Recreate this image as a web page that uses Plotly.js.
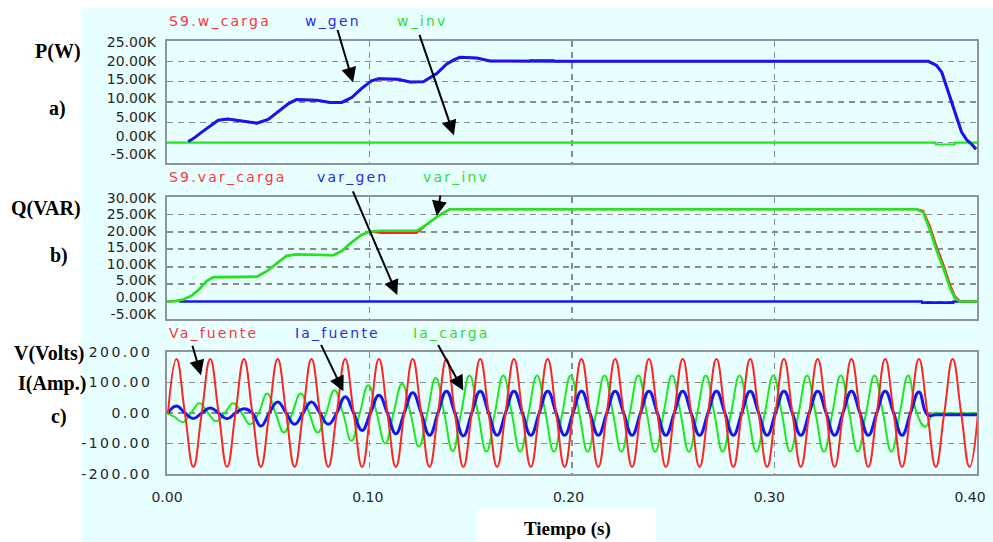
<!DOCTYPE html>
<html><head><meta charset="utf-8">
<script src="https://cdn.plot.ly/plotly-3.0.1.min.js"></script>
<style>
html,body{margin:0;padding:0;background:#fff;}
.xaxislayer-above text,.yaxislayer-above text{letter-spacing:2.4px;}
</style></head>
<body><div id="chart" style="width:993px;height:542px;"></div>
<script>
// ---------- DATA ----------
// Panel a) P(W)
const tP    = [0.0105,0.013,0.018,0.022,0.0253,0.030,0.0377,0.0443,0.050,0.0558,0.060,0.064,0.074,0.0805,0.0863,0.0912,0.096,0.101,0.1045,0.114,0.120,0.1266,0.1332,0.138,0.1414,0.1447,0.153,0.1595,0.179,0.1795,0.191,0.1915,0.376,0.380,0.3826,0.385,0.3875,0.390,0.3924,0.3949,0.3974,0.3995];
const wGen  = [300,1000,2900,4300,5500,5800,5300,4800,5700,8000,9600,10600,10400,9900,9900,11100,13300,15200,15700,15600,14900,15000,17000,19300,20300,21000,20800,20100,20000,20000,20000,20000,20000,19000,17300,13600,9600,5900,2600,700,-400,-1600];
const wCarga= [300,1000,2900,4300,5500,5800,5300,4800,5700,8000,9600,10600,10400,9900,9900,11100,13300,15200,15700,15600,14900,15000,17000,19300,20300,21000,20800,20100,20000,20300,20300,20000,20000,19000,17300,13600,9600,5900,2600,700,-400,-1600];
const tPinv = [0,0.3795,0.3797,0.389,0.3892,0.4];
const wInv  = [0,0,-450,-450,0,0];
// Panel b) Q(VAR)
const tQ      = [0,0.0048,0.008,0.0122,0.0155,0.0196,0.0229,0.0443,0.0492,0.0542,0.059,0.0632,0.0821,0.0863,0.0912,0.096,0.1002,0.1057,0.1233,0.128,0.134,0.1397,0.370,0.3734,0.3768,0.380,0.3834,0.3867,0.389,0.3916,0.4];
const varInv  = [0,200,600,1700,3300,5900,7000,7100,8700,10900,13100,13500,13300,14500,17000,19100,20100,20300,20300,22000,24600,26500,26500,25600,20400,14700,9500,3800,1000,0,0];
const varCarga= [0,200,600,1700,3300,5900,7000,7100,8700,10900,13100,13500,13300,14500,17000,19100,20100,19700,19700,22000,24600,26500,26500,26000,21500,15800,10600,4800,1600,100,0];
const tQgen   = [0.006,0.3727,0.3729,0.3883,0.3885,0.4];
const varGen  = [0,0,-300,-300,0,0];
// Panel c) waveforms, sampled every quarter period (60 Hz)
const vaFuente = [0,177,0,-177,0,177,0,-177,0,177,0,-177,0,177,0,-177,0,177,0,-177,0,177,0,-177,
 0,177,0,-177,0,177,0,-177,0,177,0,-177,0,177,0,-177,0,177,0,-177,0,177,0,-177,
 0,177,0,-177,0,177,0,-177,0,177,0,-177,0,177,0,-177,0,177,0,-177,0,177,0,-177,
 0,177,0,-177,0,177,0,-177,0,177,0,-177,0,177,0,-177,0,177,0,-177,0,177,0,-177,0];
const iaFuente = [0,23,0,-18,0,16,0,-19,0,14,0,-43,0,36,0,-37,0,36,0,-37,0,53,0,-57,0,58,0,-68,0,66,0,-73,0,71,0,-75,
 0,71,0,-73,0,71,0,-73,0,71,0,-73,0,71,0,-73,0,71,0,-73,0,71,0,-73,0,71,0,-73,
 0,71,0,-73,0,71,0,-73,0,71,0,-73,0,71,0,-73,0,71,0,-73,0,71,0,-73,
 0,69,-6,-6,-6,-6,-6,-6,-6];
const iaCarga = [0,-12,-30,0,32,0,-27,0,32,0,-37,0,64,0,-64,0,64,0,-64,0,75,0,-91,0,91,0,-100,0,96,0,-110,0,115,0,-125,0,
 123,0,-127,0,123,0,-127,0,123,0,-127,0,123,0,-127,0,123,0,-127,0,123,0,-127,0,123,0,-127,0,
 123,0,-127,0,123,0,-127,0,123,0,-127,0,123,0,-127,0,123,0,-127,0,123,0,-127,0,
 123,0,-45,-1,-1,-1,-1,-1,-1,-1];
// Ticks
const xTickVals = [0,0.1,0.2,0.3,0.4];
const xTickText = ['0.00','0.10','0.20','0.30','0.40'];
const pTickVals = [-5000,0,5000,10000,15000,20000,25000];
const pTickText = ['-5.00K','0.00K','5.00K','10.00K','15.00K','20.00K','25.00K'];
const qTickVals = [-5000,0,5000,10000,15000,20000,25000,30000];
const qTickText = ['-5.00K','0.00K','5.00K','10.00K','15.00K','20.00K','25.00K','30.00K'];
const vTickVals = [-200,-100,0,100,200];
const vTickText = ['-200.00','-100.00','0.00','100.00','200.00'];

// ---------- STYLE ----------
const RED='#ff2424', BLUE='#1616f0', GREEN='#1fe81f';
const L=167, R=977, T=41, B=474;
const GRID='#868c93', BOX='#8d949c';
const tickFont={family:'DejaVu Sans',size:14,color:'#262626'};
const sampleDt = 1/240;

const traces = [
  {x:tPinv,y:wInv,xaxis:'x',yaxis:'y',mode:'lines',line:{color:GREEN,width:2.2}},
  {x:tP,y:wCarga,xaxis:'x',yaxis:'y',mode:'lines',line:{color:RED,width:2.4}},
  {x:tP,y:wGen,xaxis:'x',yaxis:'y',mode:'lines',line:{color:BLUE,width:3}},
  {x:tQgen,y:varGen,xaxis:'x2',yaxis:'y2',mode:'lines',line:{color:BLUE,width:2.6}},
  {x:tQ,y:varCarga,xaxis:'x2',yaxis:'y2',mode:'lines',line:{color:RED,width:2.2}},
  {x:tQ,y:varInv,xaxis:'x2',yaxis:'y2',mode:'lines',line:{color:GREEN,width:2.6}},
  {x0:-0.0006,dx:sampleDt,y:iaCarga,xaxis:'x3',yaxis:'y3',mode:'lines',line:{color:GREEN,width:2,shape:'spline',smoothing:1.3}},
  {x0:0.0005,dx:sampleDt,y:iaFuente,xaxis:'x3',yaxis:'y3',mode:'lines',line:{color:BLUE,width:3,shape:'spline',smoothing:1.3}},
  {x0:0.0005,dx:sampleDt,y:vaFuente,xaxis:'x3',yaxis:'y3',mode:'lines',line:{color:RED,width:2,shape:'spline',smoothing:1.3}},
  // invisible companions that bind the label axes (tick text placement as in the original software)
  {x:tP,y:wGen,xaxis:'x',yaxis:'y4',mode:'lines',opacity:0,line:{width:0}},
  {x:tQ,y:varInv,xaxis:'x2',yaxis:'y5',mode:'lines',opacity:0,line:{width:0}},
  {x0:0.0005,dx:sampleDt,y:vaFuente,xaxis:'x4',yaxis:'y3',mode:'lines',opacity:0,line:{width:0}}
];

function xAx(anchor){
  return {anchor:anchor, domain:[0,1], range:[0,0.4], tickvals:xTickVals, ticktext:xTickText,
    showticklabels:false, ticks:'', showgrid:true, gridcolor:GRID, gridwidth:1.6, griddash:'6px,5px',
    showline:true, mirror:true, linecolor:BOX, linewidth:2, zeroline:false, tickfont:tickFont, fixedrange:true};
}
function yAx(domain, range, vals, text, labels){
  return {domain:domain, range:range, tickvals:vals, ticktext:text, showticklabels:labels, ticks:'',
    showgrid:true, gridcolor:GRID, gridwidth:1.6, griddash:'6px,5px',
    showline:true, mirror:true, linecolor:BOX, linewidth:2, zeroline:false, tickfont:tickFont,
    ticklabelstandoff:10, fixedrange:true};
}
function yLab(over, anchor, range, vals, text){
  return {overlaying:over, anchor:anchor, range:range, tickvals:vals, ticktext:text, showgrid:false, showline:false,
    zeroline:false, ticks:'', tickfont:tickFont, ticklabelstandoff:10, side:'left', fixedrange:true};
}
function px(x){return (x-L)/(R-L);}
function py(y){return (B-y)/(B-T);}
function sLab(text,x,y,color){
  return {xref:'paper',yref:'paper',x:px(x),y:py(y),xanchor:'left',yanchor:'middle',showarrow:false,
    text:'<span style="letter-spacing:2.2px">'+text+'</span>',font:{family:'DejaVu Sans',size:14,color:color}};
}
function bLab(text,x,y,anchor,size){
  return {xref:'paper',yref:'paper',x:px(x),y:py(y),xanchor:anchor,yanchor:'middle',showarrow:false,
    text:'<b>'+text+'</b>',font:{family:'Liberation Serif',size:size||20,color:'#000'}};
}
function arrow(xr,yr,x,y,ax,ay){
  return {xref:xr,yref:yr,x:x,y:y,ax:ax,ay:ay,text:'',showarrow:true,arrowhead:2,arrowsize:1.5,
    arrowwidth:2,arrowcolor:'#000',standoff:0,startstandoff:0};
}

const layout = {
  width:993,height:542,margin:{l:L,r:993-R,t:T,b:542-B},
  paper_bgcolor:'#ffffff',plot_bgcolor:'rgba(0,0,0,0)',showlegend:false,hovermode:false,
  xaxis:xAx('y'), xaxis2:xAx('y2'), xaxis3:xAx('y3'),
  xaxis4:{overlaying:'x3',anchor:'y3',side:'bottom',range:[0,0.4035],tickvals:xTickVals,ticktext:xTickText,
    showgrid:false,showline:false,zeroline:false,ticks:'',tickfont:tickFont,ticklabelstandoff:13,fixedrange:true},
  yaxis:yAx([py(163),1],[-5000,25000],pTickVals,pTickText,false),
  yaxis2:yAx([py(319),py(197)],[-5000,30000],qTickVals,qTickText,false),
  yaxis3:yAx([0,py(352)],[-200,200],vTickVals,vTickText,true),
  yaxis4:yLab('y','x',[-7267,25267],pTickVals,pTickText),
  yaxis5:yLab('y2','x2',[-6632,30242],qTickVals,qTickText),
  shapes:[
    {type:'rect',xref:'paper',yref:'paper',x0:px(81),x1:px(993),y0:py(542),y1:py(8),fillcolor:'#e8ffff',line:{width:0},layer:'below'},
    {type:'rect',xref:'paper',yref:'paper',x0:px(477),x1:px(656),y0:py(542),y1:py(509),fillcolor:'#ffffff',line:{width:0},layer:'below'}
  ],
  annotations:[
    sLab('S9.w_carga',167,21,'#ff3535'), sLab('w_gen',303,21,'#2a2ae6'), sLab('w_inv',395,21,'#2ee02e'),
    sLab('S9.var_carga',167,177,'#ff3535'), sLab('var_gen',315,177,'#2a2ae6'), sLab('var_inv',421,177,'#2ee02e'),
    sLab('Va_fuente',167,333,'#ff3535'), sLab('Ia_fuente',293,333,'#2a2ae6'), sLab('Ia_carga',411,333,'#2ee02e'),
    bLab('P(W)',83,52,'right'), bLab('a)',58,108,'center'),
    bLab('Q(VAR)',83,208,'right'), bLab('b)',59,255,'center'),
    bLab('V(Volts)',86,353,'right'), bLab('I(Amp.)',88,383,'right'), bLab('c)',59,416,'center'),
    bLab('Tiempo (s)',567,529,'center',19),
    arrow('x','y',0.0919,14800,-16,-54),
    arrow('x','y',0.1417,1800,-35,-102),
    arrow('x2','y2',0.1137,1900,-45,-105),
    arrow('x2','y2',0.1332,24600,4,-22),
    arrow('x3','y3',0.0168,124,-9,-31),
    arrow('x3','y3',0.0871,71,-23,-48),
    arrow('x3','y3',0.1463,74,-26,-47)
  ]
};
Plotly.newPlot('chart',traces,layout,{displayModeBar:false,staticPlot:true});
</script></body></html>
